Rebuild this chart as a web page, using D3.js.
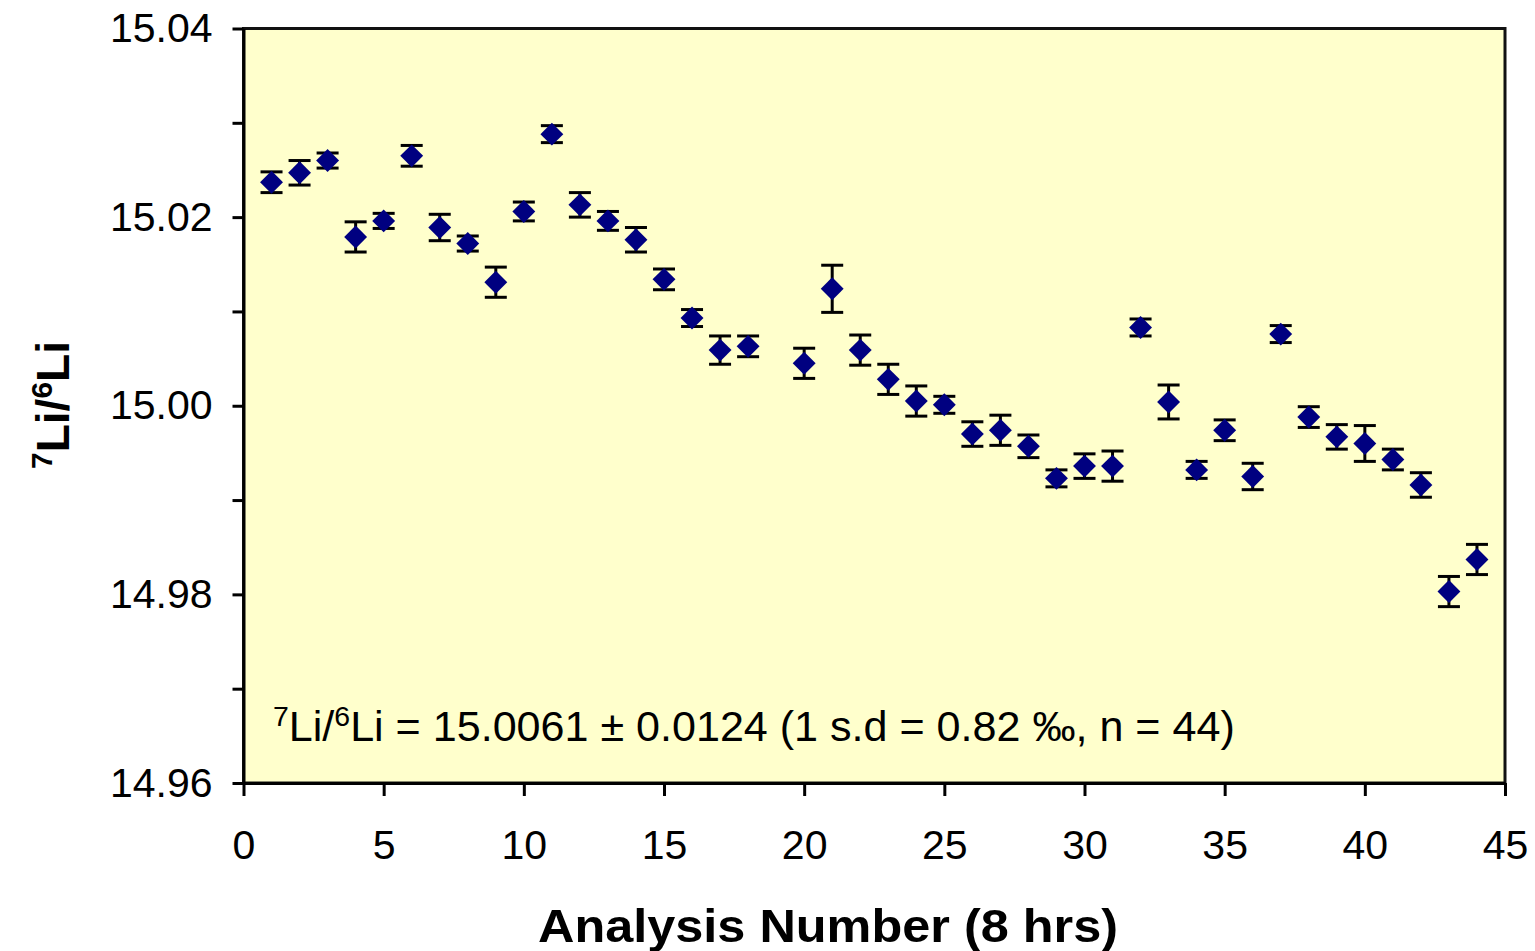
<!DOCTYPE html>
<html>
<head>
<meta charset="utf-8">
<script src="https://cdn.jsdelivr.net/npm/d3@7"></script>
<style>
  body { margin: 0; background: #ffffff; }
  svg { display: block; font-family: "Liberation Sans", Arial, sans-serif; }
</style>
</head>
<body>
<svg id="chart" width="1535" height="951"></svg>
<script>
// analysis number (no run 19 on the plot)
const ANALYSIS = [
  1, 2, 3, 4, 5, 6, 7, 8, 9, 10, 11, 12, 13, 14, 15, 16, 17, 18,
  20, 21, 22, 23, 24, 25, 26, 27, 28, 29, 30, 31, 32, 33, 34, 35, 36, 37, 38, 39, 40, 41, 42, 43, 44,
]
const RATIO = [
  15.0237, 15.0247, 15.026, 15.0179, 15.0196, 15.0265, 15.0189, 15.0172, 15.0131, 15.0206,
  15.0288, 15.0213, 15.0196, 15.0176, 15.0134, 15.0093, 15.0059, 15.0063,
  15.0045, 15.0124, 15.0059, 15.0028, 15.0005, 15.0001, 14.997, 14.9974, 14.9957, 14.9923,
  14.9936, 14.9936, 15.0083, 15.0004, 14.9932, 14.9974, 14.9925, 15.0076, 14.9988, 14.9967,
  14.996, 14.9943, 14.9916, 14.9803, 14.9837,
]
const ERR = [
  0.0011, 0.0013, 0.0008, 0.0016, 0.0008, 0.0011, 0.0014, 0.0008, 0.0016, 0.001,
  0.0009, 0.0013, 0.001, 0.0013, 0.0011, 0.0009, 0.0015, 0.0011,
  0.0016, 0.0025, 0.0016, 0.0016, 0.0016, 0.0009, 0.0013, 0.0016, 0.0012, 0.0009,
  0.0013, 0.0016, 0.0009, 0.0018, 0.0009, 0.0011, 0.0014, 0.0009, 0.0011, 0.0013,
  0.0019, 0.0011, 0.0013, 0.0016, 0.0016,
]
const X_TICKS = [0, 5, 10, 15, 20, 25, 30, 35, 40, 45]
const Y_TICKS = [14.96, 14.97, 14.98, 14.99, 15.0, 15.01, 15.02, 15.03, 15.04]
const Y_LABELS = [14.96, 14.98, 15.0, 15.02, 15.04]

const points = ANALYSIS.map((n, i) => ({ n, v: RATIO[i], e: ERR[i] }))

const svg = d3.select("#chart")

const plotLeft = 243.5
const plotRight = 1505
const plotTop = 28.5
const plotBottom = 783

const x = d3.scaleLinear().domain([0, 45]).range([plotLeft, plotRight])
const y = d3.scaleLinear().domain([14.96, 15.04]).range([plotBottom, plotTop])

// plot background + frame
svg.append("rect")
  .attr("x", plotLeft)
  .attr("y", plotTop)
  .attr("width", plotRight - plotLeft)
  .attr("height", plotBottom - plotTop)
  .attr("fill", "#ffffcc")
  .attr("stroke", "#111111")
  .attr("stroke-width", 3)

// x axis
const xAxis = svg.append("g")
  .attr("transform", `translate(0,${plotBottom})`)
  .call(d3.axisBottom(x).tickValues(X_TICKS).tickSize(13).tickPadding(34).tickSizeOuter(0))
xAxis.select(".domain").attr("stroke", "#000").attr("stroke-width", 3)
xAxis.selectAll(".tick line").attr("stroke", "#000").attr("stroke-width", 3)
xAxis.selectAll(".tick text")
  .attr("font-size", 41)
  .attr("fill", "#000")
  .attr("font-family", "Liberation Sans, Arial, sans-serif")

// y axis
const yAxis = svg.append("g")
  .attr("transform", `translate(${plotLeft},0)`)
  .call(
    d3.axisLeft(y)
      .tickValues(Y_TICKS)
      .tickSize(11)
      .tickPadding(20)
      .tickSizeOuter(0)
      .tickFormat((d) => (Y_LABELS.some((l) => Math.abs(l - d) < 1e-9) ? d3.format(".2f")(d) : "")),
  )
yAxis.select(".domain").attr("stroke", "#000").attr("stroke-width", 3)
yAxis.selectAll(".tick line").attr("stroke", "#000").attr("stroke-width", 3)
yAxis.selectAll(".tick text")
  .attr("font-size", 41)
  .attr("fill", "#000")
  .attr("font-family", "Liberation Sans, Arial, sans-serif")

// error bars
const capHalf = 11
const bars = svg.append("g").attr("stroke", "#000").attr("stroke-width", 3)
points.forEach((d) => {
  const cx = x(d.n)
  const y1 = y(d.v + d.e)
  const y2 = y(d.v - d.e)
  bars.append("line").attr("x1", cx).attr("x2", cx).attr("y1", y1).attr("y2", y2)
  bars.append("line").attr("x1", cx - capHalf).attr("x2", cx + capHalf).attr("y1", y1).attr("y2", y1)
  bars.append("line").attr("x1", cx - capHalf).attr("x2", cx + capHalf).attr("y1", y2).attr("y2", y2)
})

// diamond markers
const diamond = d3.symbol(d3.symbolSquare, 262)()
svg.append("g")
  .selectAll("path")
  .data(points)
  .join("path")
  .attr("d", diamond)
  .attr("fill", "#000080")
  .attr("transform", (d) => `translate(${x(d.n)},${y(d.v)}) rotate(45)`)

// annotation, sized so it spans the same width as the original
const noteSize = 40
const note = svg.append("text")
  .attr("x", 273)
  .attr("y", 741)
  .attr("font-size", noteSize)
  .attr("fill", "#000")
const supSize = noteSize * 0.66
note.append("tspan").attr("class", "sup").attr("dy", -15).text("7")
note.append("tspan").attr("class", "base").attr("dy", 15).text("Li/")
note.append("tspan").attr("class", "sup").attr("dy", -15).text("6")
note.append("tspan").attr("class", "base").attr("dy", 15).text("Li = 15.0061 ± 0.0124 (1 s.d = 0.82 ‰, n = 44)")
note.selectAll(".sup").attr("font-size", supSize)
const noteWidth = note.node().getComputedTextLength()
const fitSize = noteSize * 962 / noteWidth
note.attr("font-size", fitSize)
note.selectAll(".sup").attr("font-size", fitSize * 0.66)

// x title
svg.append("text")
  .attr("x", 538)
  .attr("y", 942)
  .attr("font-size", 47)
  .attr("font-weight", "bold")
  .attr("fill", "#000")
  .attr("textLength", 580)
  .attr("lengthAdjust", "spacingAndGlyphs")
  .text("Analysis Number (8 hrs)")

// y title
const yTitle = svg.append("text")
  .attr("transform", "translate(69,405) rotate(-90)")
  .attr("text-anchor", "middle")
  .attr("font-size", 46)
  .attr("font-weight", "bold")
  .attr("fill", "#000")
yTitle.append("tspan").attr("font-size", 30).attr("dy", -17).text("7")
yTitle.append("tspan").attr("dy", 17).text("Li/")
yTitle.append("tspan").attr("font-size", 30).attr("dy", -17).text("6")
yTitle.append("tspan").attr("dy", 17).text("Li")
</script>
</body>
</html>
